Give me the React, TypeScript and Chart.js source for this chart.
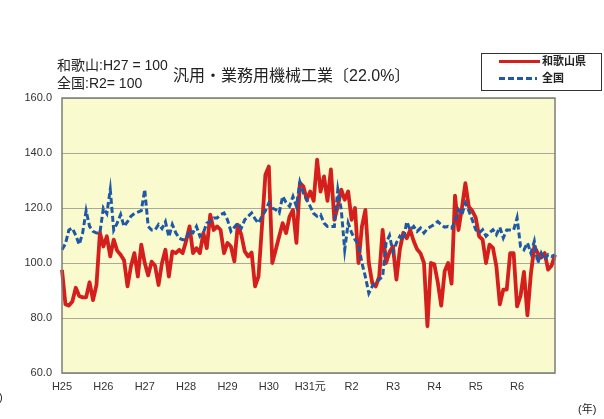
import React, { useEffect, useRef } from "react";
import { Chart, registerables } from "chart.js";

Chart.register(...registerables);

// ---- data ----
const yearLabels = ["H25", "H26", "H27", "H28", "H29", "H30", "H31元", "R2", "R3", "R4", "R5", "R6"];
const months = ["1", "2", "3", "4", "5", "6", "7", "8", "9", "10", "11", "12"];
const yTicks = [60, 80, 100, 120, 140, 160];

// 和歌山県 (H27 = 100)
const wakayama = [
  97.5, 85, 84.5, 86, 91, 88, 87.5, 87.5, 93, 86.5, 92, 111,
  106, 109.7, 102.4, 108.5, 104.5, 103, 101, 91.5, 98.8, 103.6, 95.1, 106.7,
  100, 95.5, 100.5, 99, 92, 100, 104.8, 95.1, 104.2, 103.6, 104.8, 103.6,
  108, 113.3, 103.6, 105.4, 103.6, 110.9, 105.4, 117.6, 112, 113.3, 112, 103.6,
  107.3, 106, 100.6, 113.9, 110.3, 104.2, 102.4, 103.8, 91.5, 95.1, 113.3, 132.1,
  135.1, 100, 104.8, 109.7, 114.5, 110.9, 116.9, 119.3, 107.3, 129.1, 127.9, 123,
  126, 122.6, 137.6, 126, 131.5, 122.6, 134, 115.7, 120.6, 126.7, 123, 126,
  115.7, 120, 100, 113.3, 119.3, 100, 92.7, 91.5, 95, 112, 100, 104,
  106, 94, 105, 111, 109, 112, 108, 105, 103.5, 100, 77, 100,
  99.5, 93, 84.5, 97, 100, 92.5, 124.5, 112, 120, 129, 120.5, 119,
  116.5, 109.7, 108.5, 100, 106.7, 105.5, 98.8, 85, 90.3, 90.3, 103.6, 103.6,
  84.2, 88, 96.8, 81, 96, 106, 103.6, 102, 103.6, 97.6, 99, 103,
];

// 全国 (R2 = 100)
const zenkoku = [
  104.8, 107, 112, 112.7, 110, 106.7, 111, 119, 113.3, 111.5, 110.9, 111,
  120, 118, 126.7, 112, 114.5, 117.6, 113.3, 115, 117, 118, 118.5, 119,
  126.7, 113.3, 112, 112, 114, 112.5, 115, 109.5, 114, 111, 109, 108.5,
  108.5, 112, 111, 113.3, 109.7, 111, 114.5, 115, 116.4, 116.4, 117.6, 118.2,
  115.7, 111.5, 113, 114.5, 112.7, 115.7, 117, 118.2, 116, 114.5, 117, 119,
  121.8, 120, 119.4, 118.2, 124.2, 122, 120.6, 124.2, 120.6, 129.4, 125.5, 123,
  120.6, 118, 117, 117.6, 114.5, 113.3, 113.3, 113.3, 126.7, 119.4, 104.8, 114.5,
  111, 108.5, 106.7, 100, 95, 89, 91.5, 93, 94, 95, 107.3, 110,
  104, 107.3, 109.7, 108.5, 115, 112, 113.3, 111.5, 112.7, 110.9, 112.5, 113.3,
  114, 115.1, 113.9, 113, 113.3, 112.7, 115, 119.4, 117.6, 121.8, 119, 115.7,
  112.1, 110.9, 112.1, 109.7, 111, 112.1, 110.3, 113, 109.1, 112, 112, 112,
  116.4, 106, 104.8, 107.3, 103.6, 107.9, 100, 103.6, 101.2, 103, 102.4, 103,
];

const categories: string[] = [];
yearLabels.forEach((y) => months.forEach((m) => categories.push(`${y}.${m}`)));

const FONT = '"Liberation Sans", "Noto Sans CJK JP", sans-serif';
const RED = "#d41f1c";
const BLUE = "#1f58a6";

const plotDeco = {
  id: "plotDeco",
  beforeDraw(chart: any) {
    const { ctx, chartArea } = chart;
    ctx.save();
    ctx.fillStyle = "#f9fbcf";
    ctx.fillRect(chartArea.left, chartArea.top, chartArea.right - chartArea.left, chartArea.bottom - chartArea.top);
    ctx.restore();
  },
  afterDraw(chart: any) {
    const { ctx, chartArea } = chart;
    ctx.save();
    ctx.strokeStyle = "#7d7d78";
    ctx.lineWidth = 1.5;
    ctx.strokeRect(chartArea.left, chartArea.top, chartArea.right - chartArea.left, chartArea.bottom - chartArea.top);
    ctx.restore();
  },
};

export default function App() {
  const ref = useRef<HTMLCanvasElement | null>(null);
  useEffect(() => {
    if (!ref.current) return;
    const chart = new Chart(ref.current, {
      type: "line",
      data: {
        labels: categories,
        datasets: [
          {
            label: "和歌山県",
            data: wakayama,
            borderColor: RED,
            borderWidth: 3.8,
            pointRadius: 0,
            tension: 0,
            borderJoinStyle: "round",
            fill: false,
            order: 2,
          },
          {
            label: "全国",
            data: zenkoku,
            borderColor: BLUE,
            borderWidth: 3,
            borderDash: [6, 3],
            pointRadius: 0,
            tension: 0,
            fill: false,
            order: 1,
          },
        ],
      },
      options: {
        animation: false,
        responsive: false,
        maintainAspectRatio: false,
        layout: { padding: { top: 98, right: 49, left: 0, bottom: 0 } },
        plugins: { legend: { display: false }, title: { display: false }, tooltip: { enabled: false } },
        scales: {
          x: {
            type: "category",
            offset: false,
            grid: { display: false, drawTicks: false },
            border: { display: false },
            ticks: {
              autoSkip: false,
              maxRotation: 0,
              minRotation: 0,
              padding: 7,
              color: "#333",
              font: { family: FONT, size: 11 },
              callback: (_v: any, i: number) => (i % 12 === 0 ? yearLabels[i / 12] : ""),
            },
            afterFit: (s: any) => {
              s.height = 46;
            },
          },
          y: {
            min: 60,
            max: 160,
            afterBuildTicks: (s: any) => {
              s.ticks = yTicks.map((v) => ({ value: v }));
            },
            grid: { color: "#a8a89c", lineWidth: 1, drawTicks: false },
            border: { display: false },
            ticks: {
              padding: 10,
              color: "#333",
              font: { family: FONT, size: 11 },
              callback: (v: any) => Number(v).toFixed(1),
            },
            afterFit: (s: any) => {
              s.width = 62;
            },
          },
        },
      },
      plugins: [plotDeco],
    });
    return () => chart.destroy();
  }, []);

  const txt: React.CSSProperties = { position: "absolute", fontFamily: FONT, color: "#222", whiteSpace: "nowrap" };

  return (
    <div style={{ position: "fixed", left: 0, top: 0, width: 604, height: 419, background: "#fff", overflow: "hidden" }}>
      <canvas ref={ref} width={604} height={419} style={{ position: "absolute", left: 0, top: 0, width: 604, height: 419 }} />
      <div style={{ ...txt, left: 57, top: 58, fontSize: 14, lineHeight: "15px" }}>和歌山:H27 = 100</div>
      <div style={{ ...txt, left: 57, top: 76, fontSize: 14, lineHeight: "15px" }}>全国:R2= 100</div>
      <div style={{ ...txt, left: 173, top: 67, fontSize: 16, lineHeight: "18px" }}>汎用・業務用機械工業〔22.0%〕</div>
      <div
        style={{
          position: "absolute",
          left: 481,
          top: 53,
          width: 121,
          height: 38,
          border: "1px solid #333",
          background: "#fff",
          boxSizing: "border-box",
        }}
      >
        <div style={{ position: "absolute", left: 17, top: 6, width: 41, height: 3, background: RED }} />
        <div style={{ ...txt, left: 60, top: 1, fontSize: 11, lineHeight: "12px", fontWeight: "bold" }}>和歌山県</div>
        <div
          style={{
            position: "absolute",
            left: 17,
            top: 23,
            width: 38,
            height: 3,
            background: `repeating-linear-gradient(90deg, ${BLUE} 0px, ${BLUE} 6px, transparent 6px, transparent 9px)`,
          }}
        />
        <div style={{ ...txt, left: 60, top: 18, fontSize: 11, lineHeight: "12px", fontWeight: "bold" }}>全国</div>
      </div>
      <div style={{ ...txt, left: 578, top: 403, fontSize: 11, lineHeight: "13px" }}>(年)</div>
      <div style={{ ...txt, left: -1, top: 391, fontSize: 11, lineHeight: "13px" }}>)</div>
    </div>
  );
}
